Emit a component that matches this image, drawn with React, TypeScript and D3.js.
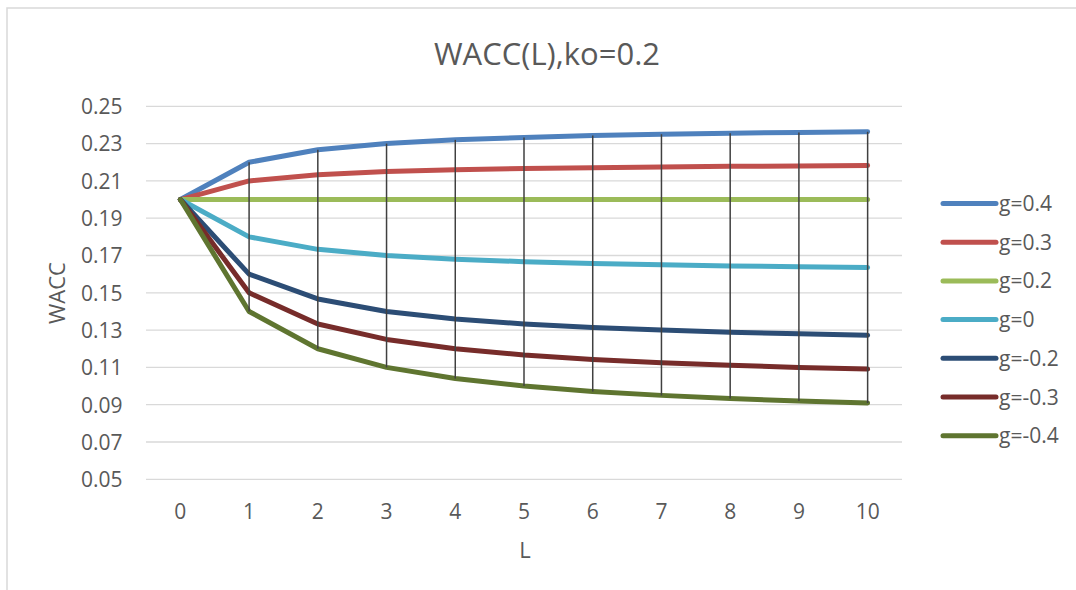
import React from "react";
import * as d3 from "d3";

const categories = [0, 1, 2, 3, 4, 5, 6, 7, 8, 9, 10];
const seriesNames = ["g=0.4", "g=0.3", "g=0.2", "g=0", "g=-0.2", "g=-0.3", "g=-0.4"];
const gPos04 = [0.2, 0.22, 0.2267, 0.23, 0.232, 0.2333, 0.2343, 0.235, 0.2356, 0.236, 0.2364];
const gPos03 = [0.2, 0.21, 0.2133, 0.215, 0.216, 0.2167, 0.2171, 0.2175, 0.2178, 0.218, 0.2182];
const gPos02 = [0.2, 0.2, 0.2, 0.2, 0.2, 0.2, 0.2, 0.2, 0.2, 0.2, 0.2];
const gZero = [0.2, 0.18, 0.1733, 0.17, 0.168, 0.1667, 0.1657, 0.165, 0.1644, 0.164, 0.1636];
const gNeg02 = [0.2, 0.16, 0.1467, 0.14, 0.136, 0.1333, 0.1314, 0.13, 0.1289, 0.128, 0.1273];
const gNeg03 = [0.2, 0.15, 0.1333, 0.125, 0.12, 0.1167, 0.1143, 0.1125, 0.1111, 0.11, 0.1091];
const gNeg04 = [0.2, 0.14, 0.12, 0.11, 0.104, 0.1, 0.0971, 0.095, 0.0933, 0.092, 0.0909];
const yTicks = [0.05, 0.07, 0.09, 0.11, 0.13, 0.15, 0.17, 0.19, 0.21, 0.23, 0.25];
const colors = ["#4F81BD", "#C0504D", "#9BBB59", "#4BACC6", "#2C4D75", "#772C2A", "#5F7530"];

const allSeries = [gPos04, gPos03, gPos02, gZero, gNeg02, gNeg03, gNeg04];

export default function App() {
  const W = 1076, H = 590;
  const left = 146, right = 902, top = 106.3, bottom = 479.3;
  const x = d3.scaleBand<number>().domain(categories).range([left, right]);
  const cx = (c: number) => (x(c) as number) + x.bandwidth() / 2;
  const y = d3.scaleLinear().domain([0.05, 0.25]).range([bottom, top]);
  const line = d3.line<number>()
    .x((_, i) => cx(categories[i]))
    .y((d) => y(d))
    .curve(d3.curveLinear);
  const font = "'Open Sans', 'Liberation Sans', sans-serif";
  const txt = "#595959";
  const legendY0 = 203.5, legendStep = 38.7;

  return (
    <svg width={W} height={H} style={{ position: "absolute", left: 0, top: 0, background: "#fff" }}>
      <rect x={0} y={0} width={W} height={H} fill="#fff" />
      <rect x={7} y={8} width={1200} height={700} fill="#fff" stroke="#d9d9d9" strokeWidth={1.5} />
      <text x={547} y={65} textAnchor="middle" fontFamily={font} fontSize={31} fill={txt}>WACC(L),ko=0.2</text>
      {yTicks.map((t) => (
        <g key={t}>
          <line x1={left} x2={right} y1={y(t)} y2={y(t)} stroke="#d9d9d9" strokeWidth={1.3} />
          <text x={122.5} y={y(t) + 7.8} textAnchor="end" fontFamily={font} fontSize={21} fill={txt}>{t.toFixed(2)}</text>
        </g>
      ))}
      {categories.map((c) => (
        <text key={c} x={cx(c)} y={518.5} textAnchor="middle" fontFamily={font} fontSize={21} fill={txt}>{c}</text>
      ))}
      <text x={525} y={558} textAnchor="middle" fontFamily={font} fontSize={22} fill={txt}>L</text>
      <text transform={`translate(65,293) rotate(-90)`} textAnchor="middle" fontFamily={font} fontSize={22} fill={txt}>WACC</text>
      {allSeries.map((s, i) => (
        <path key={i} d={line(s) as string} fill="none" stroke={colors[i]} strokeWidth={5} strokeLinecap="round" strokeLinejoin="round" />
      ))}
      {categories.map((c, i) => {
        const vals = allSeries.map((s) => s[i]);
        const hi = d3.max(vals) as number, lo = d3.min(vals) as number;
        return <line key={c} x1={cx(c)} x2={cx(c)} y1={y(hi)} y2={y(lo)} stroke="#404040" strokeWidth={1.5} />;
      })}
      {seriesNames.map((n, i) => (
        <g key={n}>
          <line x1={943} x2={996} y1={legendY0 + i * legendStep} y2={legendY0 + i * legendStep} stroke={colors[i]} strokeWidth={5} strokeLinecap="round" />
          <text x={999} y={legendY0 + i * legendStep + 7.5} fontFamily={font} fontSize={21} fill={txt}>{n}</text>
        </g>
      ))}
    </svg>
  );
}
